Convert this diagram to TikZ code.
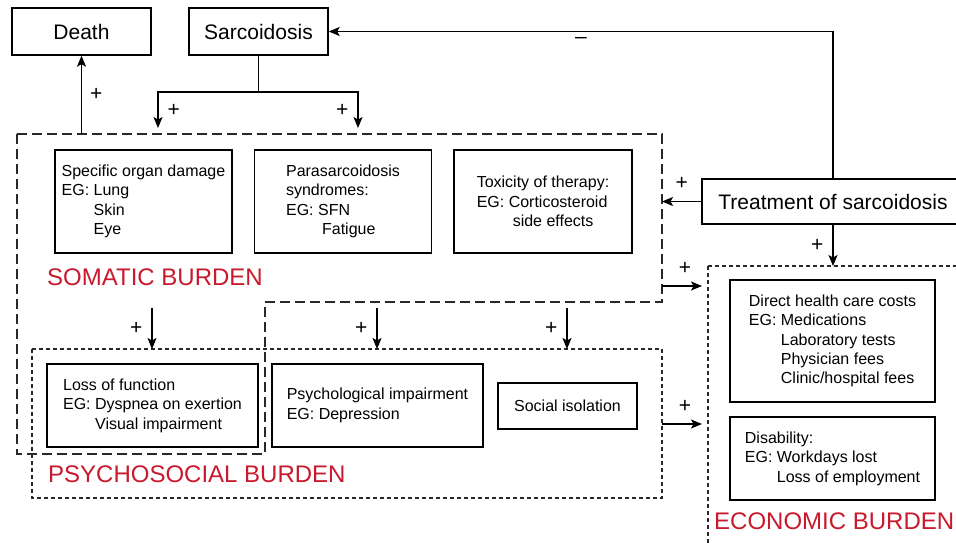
\documentclass[tikz,border=0pt]{standalone}
\usepackage{fontspec}
\setmainfont{Liberation Sans}
\usepackage{tikz}
\usetikzlibrary{arrows.meta,positioning,calc}
\definecolor{BurdenRed}{RGB}{200,25,45}
\definecolor{DashGray}{RGB}{40,40,40}
\newcommand{\egind}{\phantom{EG:\ }}
\tikzset{
  headbox/.style={draw,line width=1.4pt,minimum width=139pt,minimum height=47pt,inner sep=0pt,font=\fontsize{21}{25}\selectfont},
  itembox/.style={draw,line width=1.4pt,inner sep=0pt,align=left,font=\fontsize{16}{19.4}\selectfont},
  burden/.style={anchor=west,inner sep=0pt,text=BurdenRed,font=\fontsize{24}{28}\selectfont},
  sign/.style={inner sep=0pt,font=\fontsize{21}{23}\selectfont},
  flow/.style={-{Stealth[length=11pt,width=9pt,inset=2.5pt]},line width=1.4pt},
  somaticline/.style={draw=DashGray,line width=1.3pt,dash pattern=on 10pt off 5pt},
  softline/.style={draw=DashGray,line width=1.1pt,dash pattern=on 4pt off 3pt}
}

\begin{document}
\begin{tikzpicture}[x=1pt,y=-1pt]
\useasboundingbox (0,0) rectangle (956,542);
\clip (0,0) rectangle (956,542);
\coordinate (somNW) at (17,134);
\coordinate (somNE) at (662,134);
\coordinate (psyNW) at (32,349);
\coordinate (ecoNW) at (708,266);
\draw[somaticline] (somNW) -- (somNE) -- (662,302) -- (265,302) -- (265,454) -- (17,454) -- cycle;
\draw[softline] (psyNW) rectangle (662,498);
\draw[softline] (ecoNW) rectangle (980,570);
\node[headbox](death) at (81.5,31.5){Death};
\node[headbox](sarc) at (258.5,31.5){Sarcoidosis};
\node[headbox,minimum width=262pt,minimum height=45pt](treat) at (833,201.5){Treatment of sarcoidosis};
\node[itembox,minimum width=177pt,minimum height=103pt](organ) at (143.5,201.5){Specific organ damage\\EG: Lung\\\egind Skin\\\egind Eye};
\node[itembox,minimum width=177pt,minimum height=103pt](para) at (343,201.5){Parasarcoidosis\\syndromes:\\EG: SFN\\\egind\hspace{4pt}Fatigue};
\node[itembox,minimum width=178pt,minimum height=103pt](tox) at (543,201.5){Toxicity of therapy:\\EG: Corticosteroid\\\egind\hspace{4pt}side effects};
\node[itembox,minimum width=211pt,minimum height=83pt](loss) at (152.5,405.5){Loss of function\\EG: Dyspnea on exertion\\\egind Visual impairment};
\node[itembox,minimum width=211pt,minimum height=83pt](psych) at (377.5,405.5){Psychological impairment\\EG: Depression};
\node[itembox,minimum width=139pt,minimum height=46pt](social) at (567.5,406){Social isolation};
\node[itembox,minimum width=205pt,minimum height=122pt](direct) at (832.5,341){Direct health care costs\\EG: Medications\\\egind Laboratory tests\\\egind Physician fees\\\egind Clinic/hospital fees};
\node[itembox,minimum width=205pt,minimum height=83pt](disab) at (832.5,458.5){Disability:\\EG: Workdays lost\\\egind Loss of employment};
\node[burden](somlabel) at (47,277){SOMATIC BURDEN};
\node[burden](psylabel) at (48,474){PSYCHOSOCIAL BURDEN};
\node[burden](ecolabel) at (714,521){ECONOMIC BURDEN};
\coordinate (split) at (258.5,92);
\coordinate (inL) at (158,128);
\coordinate (inR) at (358,128);
\draw[line width=1.4pt] (sarc.south) -- (split);
\draw[flow] (split) -| node[sign,pos=0.75,right=9pt]{+} (inL);
\draw[flow] (split) -| node[sign,pos=0.75,left=9pt]{+} (inR);
\draw[flow] (death.south |- somNW) -- node[sign,right=8pt]{+} (death.south);
\draw[flow] (treat.north) |- node[sign,pos=0.75,below=5pt]{–} (sarc.east);
\draw[flow] (treat.west) -- node[sign,above=11pt]{+} (treat.west -| somNE);
\draw[flow] (treat.south) -- node[sign,left=9pt]{+} (treat.south |- ecoNW);
\coordinate (somR) at (662,286);
\coordinate (psyR) at (662,424);
\draw[flow,shorten >=6pt] (somR) -- node[sign,above=11pt]{+} (somR -| ecoNW);
\draw[flow,shorten >=6pt] (psyR) -- node[sign,above=11pt]{+} (psyR -| ecoNW);
\foreach \x/\n in {152/a,377/b,567/c}{
  \coordinate (top\n) at (\x,308);
  \draw[flow] (top\n) -- node[sign,left=9pt]{+} (top\n |- psyNW);
}
\end{tikzpicture}
\end{document}
